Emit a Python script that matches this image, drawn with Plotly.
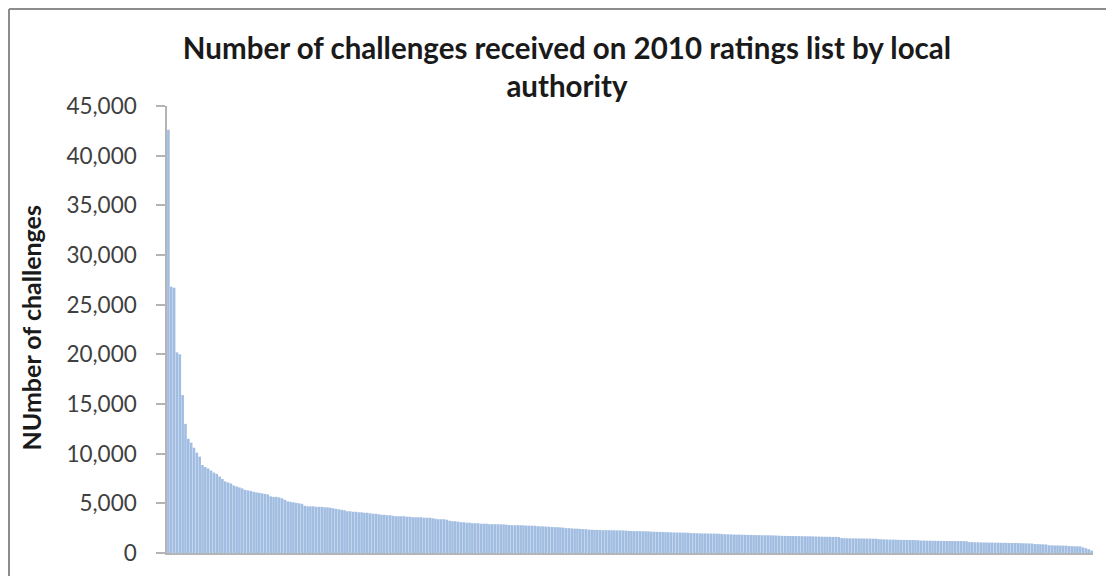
import plotly.graph_objects as go

# Number of challenges per local authority (sorted descending)
challenges = [
    42600, 26800, 26700, 20200, 20000, 15900, 13000, 11500, 11100, 10600, 10100, 9700,
    8850, 8650, 8500, 8300, 8100, 7950, 7700, 7450, 7200, 7100, 7000, 6800, 6700, 6600,
    6500, 6350, 6300, 6250, 6150, 6100, 6050,
    6000, 5950, 5900, 5700, 5650, 5650, 5600, 5500, 5350, 5200, 5150, 5100, 5050, 5000, 4950,
    4750, 4700, 4700, 4700, 4650, 4650, 4650, 4600, 4600,
    4550, 4500, 4450, 4400, 4350, 4300,
    4200, 4200, 4150, 4150, 4100, 4100, 4050, 4050, 4000,
    3950, 3950, 3900, 3850, 3850, 3800, 3800, 3750,
    3700, 3700, 3700, 3700, 3650,
    3650, 3600, 3600, 3600, 3600, 3550, 3550, 3550, 3500,
    3450, 3400, 3400, 3400, 3350,
    3250, 3200, 3200, 3150,
    3100, 3100, 3050, 3050, 3000, 3000, 3000, 2950,
    2950, 2950, 2900, 2900, 2900, 2900, 2880, 2880, 2850,
    2820, 2800, 2800, 2800, 2800, 2780, 2760, 2750, 2750, 2740,
    2700, 2680, 2680, 2650, 2650, 2620, 2600, 2600, 2580,
    2550, 2500, 2500, 2480, 2450, 2450, 2420, 2400, 2400,
    2350, 2340, 2330, 2320, 2310, 2300, 2300, 2300, 2290, 2290, 2280, 2280, 2270, 2260,
    2230, 2220, 2200, 2200, 2200, 2190, 2190, 2180,
    2150, 2140, 2130, 2120, 2110, 2100, 2090, 2080, 2070, 2060, 2060, 2050, 2050, 2040,
    2000, 2000, 1990, 1980, 1970, 1970, 1960, 1960, 1950, 1950, 1940,
    1900, 1890, 1880, 1870, 1860, 1850, 1850, 1840, 1830, 1820, 1820, 1810, 1800, 1800,
    1790, 1790, 1780, 1780, 1770, 1760,
    1740, 1730, 1720, 1720, 1710, 1710, 1700, 1700, 1690, 1690, 1680, 1680, 1670, 1660,
    1650, 1640, 1640, 1630, 1630, 1620, 1620, 1610,
    1500, 1490, 1480, 1480, 1470, 1470, 1460, 1460, 1460, 1450, 1450, 1440, 1440, 1400,
    1380, 1370, 1360, 1350, 1350, 1340, 1330, 1320, 1320, 1310, 1310, 1300, 1300, 1280,
    1250, 1250, 1240, 1240, 1230, 1230, 1220, 1220, 1220, 1210, 1210, 1210, 1200, 1200,
    1200, 1190, 1180,
    1100, 1090, 1080, 1080, 1070, 1060, 1060, 1050, 1050, 1040, 1040, 1030, 1020, 1020,
    1010, 1010, 1000, 1000,
    990, 980, 970, 960, 950,
    900, 890, 880, 870, 860,
    780, 770, 760, 760, 750, 740, 740,
    700, 690, 680, 670, 660,
    560, 480, 380, 250,
]

authorities = [f"LA {i + 1}" for i in range(len(challenges))]

y_ticks = [0, 5000, 10000, 15000, 20000, 25000, 30000, 35000, 40000, 45000]

title_text = "Number of challenges received on 2010 ratings list by local<br>authority"
y_title = "NUmber of challenges"

W, H = 1114, 576
# the page places the figure 8px from the top-left corner of the window
OFF = 8
L, T = 167 - OFF, 106 - OFF
R = W - (1093 - OFF)
B = H - (553 - OFF)
pw, ph = W - L - R, H - T - B

fig = go.Figure(
    go.Bar(
        x=authorities,
        y=challenges,
        marker=dict(color="#a1bde1", line=dict(width=0)),
    )
)

fig.update_layout(
    width=W,
    height=H,
    margin=dict(l=L, r=R, t=T, b=B, autoexpand=False),
    paper_bgcolor="white",
    plot_bgcolor="white",
    bargap=0.08,
    showlegend=False,
    font=dict(family="Lato", color="#404040"),
    title=dict(
        text=title_text,
        x=(567 - OFF) / W,
        xref="container",
        xanchor="center",
        y=1 - (59 - OFF) / H,
        yref="container",
        yanchor="middle",
        font=dict(family="Lato", size=29.5, color="#1a1a1a", weight="bold"),
    ),
    xaxis=dict(
        showticklabels=False,
        ticks="",
        showgrid=False,
        showline=True,
        linecolor="#b4b4b4",
        linewidth=1.5,
        zeroline=False,
    ),
    yaxis=dict(
        range=[0, 45000],
        tickvals=y_ticks,
        tickformat=",",
        ticks="outside",
        ticklen=9,
        tickcolor="#b4b4b4",
        tickwidth=1.5,
        ticklabelstandoff=15,
        showgrid=False,
        showline=True,
        linecolor="#b4b4b4",
        linewidth=1.5,
        zeroline=False,
        tickfont=dict(family="Lato", size=22.5, color="#404040"),
    ),
    annotations=[
        dict(
            text=y_title,
            xref="paper",
            yref="paper",
            x=(30 - OFF - L) / pw,
            y=(H - B - (328.5 - OFF)) / ph,
            xanchor="center",
            yanchor="middle",
            textangle=-90,
            showarrow=False,
            font=dict(family="Lato", size=25, color="#1a1a1a", weight="bold"),
        )
    ],
    shapes=[
        dict(type="line", xref="paper", yref="paper",
             x0=(1 - L) / pw, x1=(W + 10 - L) / pw,
             y0=(H - B - 1) / ph, y1=(H - B - 1) / ph,
             line=dict(color="#8c8c8c", width=2)),
        dict(type="line", xref="paper", yref="paper",
             x0=(1 - L) / pw, x1=(1 - L) / pw,
             y0=(H - B - 1) / ph, y1=-(B + 10) / ph,
             line=dict(color="#8c8c8c", width=2)),
    ],
)

fig.write_html("out.html")
